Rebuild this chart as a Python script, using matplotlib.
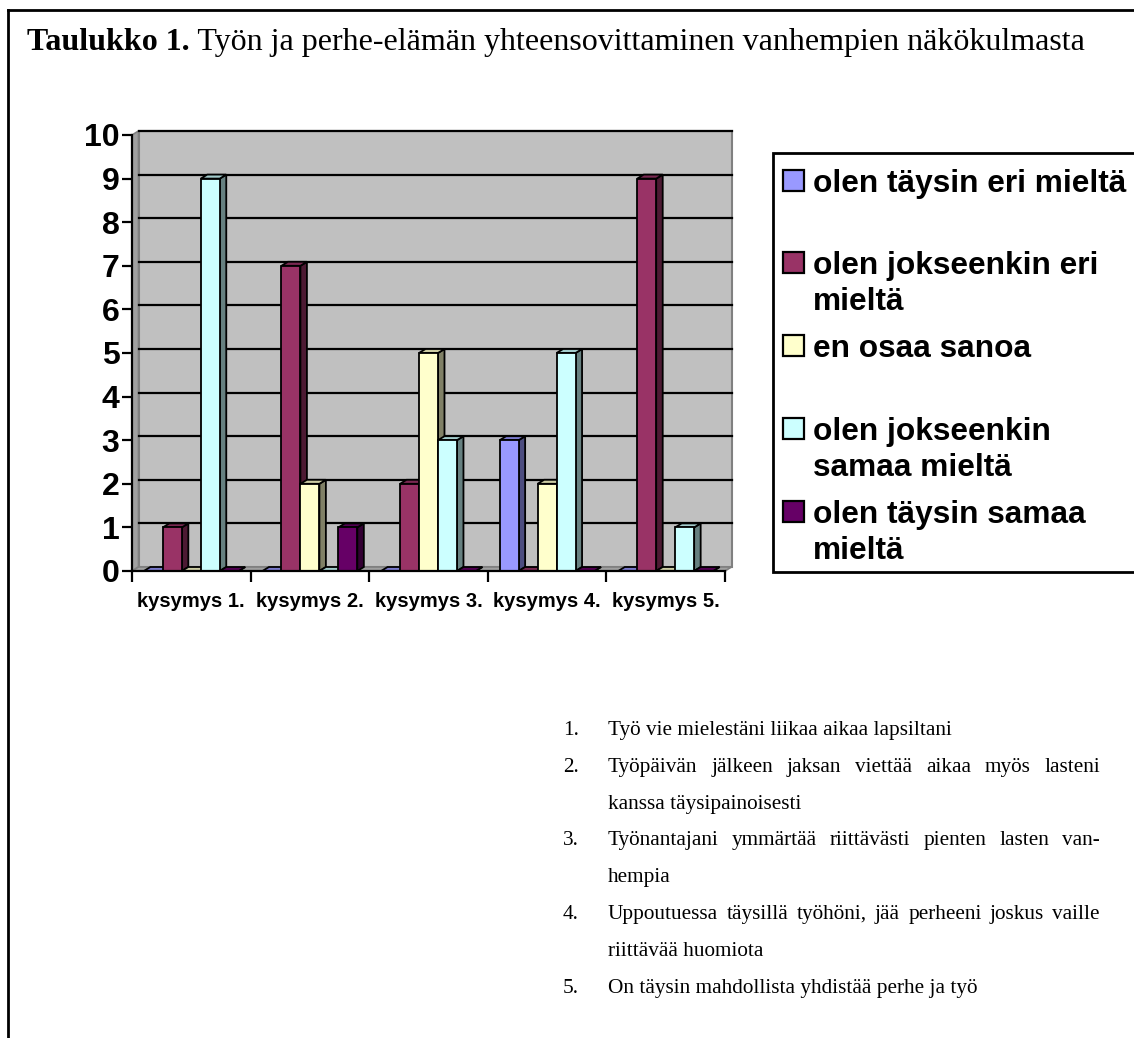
import matplotlib
matplotlib.use('Agg')
import matplotlib.pyplot as plt
from matplotlib.patches import Polygon, Rectangle
from matplotlib.lines import Line2D
import numpy as np

# ---- data ----
categories = ['kysymys 1.', 'kysymys 2.', 'kysymys 3.', 'kysymys 4.', 'kysymys 5.']
series_names = ['olen täysin eri mieltä', 'olen jokseenkin eri\nmieltä', 'en osaa sanoa',
                'olen jokseenkin\nsamaa mieltä', 'olen täysin samaa\nmieltä']
taysin_eri = [0, 0, 0, 3, 0]
jokseenkin_eri = [1, 7, 2, 0, 9]
en_osaa = [0, 2, 5, 2, 0]
jokseenkin_samaa = [9, 0, 3, 5, 1]
taysin_samaa = [0, 1, 0, 0, 0]
series_values = [taysin_eri, jokseenkin_eri, en_osaa, jokseenkin_samaa, taysin_samaa]

face_colors = ['#9999FF', '#993366', '#FFFFCC', '#CCFFFF', '#660066']
top_colors = ['#7A7ACC', '#7A2952', '#CCCCA3', '#A3CCCC', '#520052']
side_colors = ['#4D4D80', '#4D1A33', '#808066', '#668080', '#330033']

title_bold = 'Taulukko 1.'
title_rest = ' Työn ja perhe-elämän yhteensovittaminen vanhempien näkökulmasta'
# question texts with the document's line breaks
question_lines = [
    ['Työ vie mielestäni liikaa aikaa lapsiltani'],
    ['Työpäivän jälkeen jaksan viettää aikaa myös lasteni', 'kanssa täysipainoisesti'],
    ['Työnantajani ymmärtää riittävästi pienten lasten van-', 'hempia'],
    ['Uppoutuessa täysillä työhöni, jää perheeni joskus vaille', 'riittävää huomiota'],
    ['On täysin mahdollista yhdistää perhe ja työ'],
]

W, H = 1134, 1038
fig = plt.figure(figsize=(W / 100, H / 100), dpi=100)
fig.patch.set_facecolor('white')


def fx(x):
    return x / W


def fy(y):
    return 1 - y / H


# outer frame (cut at right and bottom)
fig.add_artist(Line2D([fx(8), fx(W + 5)], [fy(10), fy(10)], color='black', lw=2))
fig.add_artist(Line2D([fx(8), fx(8)], [fy(10), fy(H + 5)], color='black', lw=2))

# ---- chart ----
x0, x1, yb, yt = 132, 725, 571, 135
ax = fig.add_axes([fx(x0), fy(yb), (x1 - x0) / W, (yb - yt) / H])
ax.set_xlim(0, 5)
ax.set_ylim(0, 10)
ax.set_facecolor('none')

dx = 6.5 / ((x1 - x0) / 5)
dy = 4.0 / ((yb - yt) / 10)

# back wall, side wall, floor
ax.add_patch(Polygon([(dx, dy), (5 + dx, dy), (5 + dx, 10 + dy), (dx, 10 + dy)],
                     closed=True, facecolor='#C0C0C0', edgecolor='#808080', lw=1.5,
                     clip_on=False, zorder=0))
ax.add_patch(Polygon([(0, 0), (dx, dy), (dx, 10 + dy), (0, 10)], closed=True,
                     facecolor='#A0A0A0', edgecolor='#808080', lw=1.2,
                     clip_on=False, zorder=0.5))
ax.add_patch(Polygon([(0, 0), (5, 0), (5 + dx, dy), (dx, dy)], closed=True,
                     facecolor='#A0A0A0', edgecolor='#808080', lw=1.2,
                     clip_on=False, zorder=0.5))
for v in range(1, 11):
    ax.plot([dx, 5 + dx], [v + dy, v + dy], color='black', lw=1.6,
            clip_on=False, zorder=1)

# bars
n = len(series_values)
bw = 0.16
off = (1 - n * bw) / 2
z = 2
for c in range(len(categories)):
    for s in range(n):
        v = series_values[s][c]
        left = c + off + s * bw
        right = left + bw
        ax.add_patch(Polygon([(right, 0), (right + dx, dy), (right + dx, v + dy), (right, v)],
                             closed=True, facecolor=side_colors[s], edgecolor='black',
                             lw=1.3, clip_on=False, zorder=z))
        ax.add_patch(Polygon([(left, v), (right, v), (right + dx, v + dy), (left + dx, v + dy)],
                             closed=True, facecolor=top_colors[s], edgecolor='black',
                             lw=1.3, clip_on=False, zorder=z))
        if v > 0:
            ax.bar(left, v, width=bw, align='edge', color=face_colors[s],
                   edgecolor='black', lw=1.3, zorder=z + 0.1)
        z += 0.2

for side in ['top', 'right']:
    ax.spines[side].set_visible(False)
ax.spines['left'].set_linewidth(1.6)
ax.spines['bottom'].set_linewidth(1.6)
ax.spines['left'].set_zorder(50)
ax.spines['bottom'].set_zorder(50)

ax.set_yticks(range(0, 11))
ax.set_yticklabels([str(i) for i in range(0, 11)], fontsize=23, fontweight='bold',
                   family='Liberation Sans')
ax.tick_params(axis='y', direction='out', length=7, width=1.6, pad=2)
ax.set_xticks(range(0, 6))
ax.set_xticklabels([])
ax.tick_params(axis='x', which='major', direction='out', length=8, width=1.6)
ax.set_xticks(np.arange(len(categories)) + 0.5, minor=True)
ax.set_xticklabels(categories, minor=True, fontsize=14.5, fontweight='bold',
                   family='Liberation Sans')
ax.tick_params(axis='x', which='minor', length=0, pad=15)

# ---- legend ----
fig.add_artist(Rectangle((fx(773), fy(572)), (W + 10 - 773) / W, (572 - 153) / H,
                         transform=fig.transFigure, facecolor='white',
                         edgecolor='black', lw=2, clip_on=False))
leg_base = [192, 274, 357, 440, 523]
for i, name in enumerate(series_names):
    b = leg_base[i]
    fig.add_artist(Rectangle((fx(783), fy(b - 1)), 21 / W, 21 / H,
                             transform=fig.transFigure, facecolor=face_colors[i],
                             edgecolor='black', lw=1.6))
    for j, line in enumerate(name.split('\n')):
        fig.text(fx(813), fy(b + 36 * j), line, fontsize=22.8, fontweight='bold',
                 family='Liberation Sans', va='baseline', ha='left')

# ---- title ----
renderer = fig.canvas.get_renderer()
t1 = fig.text(fx(27), fy(50), title_bold, fontsize=23, fontweight='bold',
              family='Liberation Serif', va='baseline', ha='left')
bb = t1.get_window_extent(renderer)
fig.text(bb.x1 / W, fy(50), title_rest, fontsize=23,
         family='Liberation Serif', va='baseline', ha='left')

# ---- numbered list ----
num_x, txt_x, right_x = 563, 608, 1100
fs = 15.3
base = 735
step = 36.8
k = 0
for qi, lines in enumerate(question_lines):
    fig.text(fx(num_x), fy(base + step * k), f'{qi + 1}.', fontsize=fs,
             family='Liberation Serif', va='baseline', ha='left')
    for li, line in enumerate(lines):
        yy = fy(base + step * k)
        if li < len(lines) - 1:
            # justified line
            words = line.split(' ')
            texts = [fig.text(0, yy, w_, fontsize=fs, family='Liberation Serif',
                              va='baseline', ha='left') for w_ in words]
            widths = [t.get_window_extent(renderer).width for t in texts]
            gap = (right_x - txt_x - sum(widths)) / (len(words) - 1)
            cx = txt_x
            for t, wd in zip(texts, widths):
                t.set_x(fx(cx))
                cx += wd + gap
        else:
            fig.text(fx(txt_x), yy, line, fontsize=fs, family='Liberation Serif',
                     va='baseline', ha='left')
        k += 1

fig.savefig('out.png', dpi=100)
